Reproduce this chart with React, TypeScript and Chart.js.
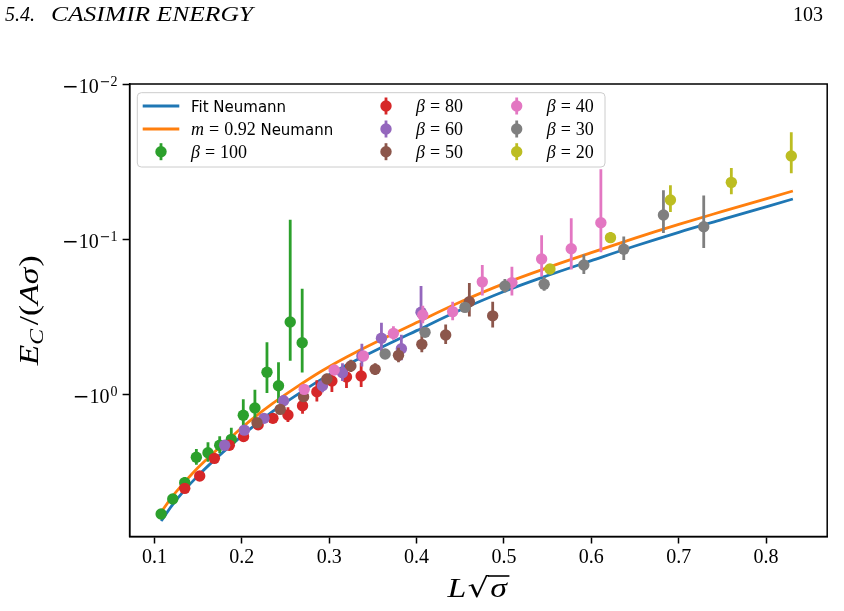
import React, { useEffect, useRef } from "react";
import { Chart, registerables } from "chart.js";

Chart.register(...registerables);

const SERIF = "'Liberation Serif', 'DejaVu Serif', serif";
const DSERIF = "'DejaVu Serif', serif";
const SANS = "'DejaVu Sans', 'Noto Sans', sans-serif";

// Fit curves: L*sqrt(sigma) and |E_C|/(A sigma)
const curveL = [0.1077, 0.12, 0.135, 0.15, 0.17, 0.19, 0.21, 0.235, 0.26, 0.29, 0.32, 0.36, 0.4, 0.45, 0.5, 0.55, 0.6, 0.65, 0.7, 0.75, 0.8306];
const fitNeumann = [6.6, 5.25, 4.14, 3.36, 2.62, 2.08, 1.67, 1.3, 1.04, 0.81, 0.65, 0.5, 0.39, 0.287, 0.218, 0.172, 0.138, 0.111, 0.0905, 0.0748, 0.0552];
const massNeumann = [5.78, 4.62, 3.68, 2.98, 2.33, 1.85, 1.48, 1.155, 0.924, 0.719, 0.577, 0.444, 0.346, 0.255, 0.194, 0.153, 0.1225, 0.0986, 0.0804, 0.0664, 0.049];

// Lattice data, |E_C|/(A sigma) with its error
const beta100L = [0.1077, 0.121, 0.1347, 0.148, 0.1613, 0.1747, 0.188, 0.2017, 0.215, 0.2288, 0.242, 0.2554, 0.2691];
const beta100E = [5.94, 4.76, 3.73, 2.56, 2.39, 2.14, 1.96, 1.37, 1.23, 0.724, 0.884, 0.343, 0.467];
const beta100Err = [0.3, 0.3, 0.3, 0.3, 0.34, 0.27, 0.31, 0.29, 0.29, 0.26, 0.26, 0.268, 0.258];

const beta80L = [0.1347, 0.1518, 0.1686, 0.1857, 0.202, 0.2187, 0.2356, 0.2528, 0.2695, 0.2859, 0.3031, 0.3198, 0.3366];
const beta80E = [4.06, 3.38, 2.6, 2.14, 1.88, 1.58, 1.435, 1.366, 1.19, 0.966, 0.824, 0.777, 0.765];
const beta80Err = [0.1, 0.1, 0.12, 0.12, 0.13, 0.1, 0.11, 0.15, 0.15, 0.15, 0.146, 0.138, 0.136];

const beta60L = [0.1804, 0.2029, 0.2254, 0.2478, 0.2923, 0.3152, 0.3374, 0.3598, 0.3826, 0.4051];
const beta60E = [2.14, 1.71, 1.435, 1.105, 0.884, 0.729, 0.569, 0.437, 0.51, 0.297];
const beta60Err = [0.09, 0.09, 0.09, 0.09, 0.09, 0.095, 0.095, 0.09, 0.096, 0.096];

const beta50L = [0.2174, 0.244, 0.2707, 0.2974, 0.3248, 0.3526, 0.3793, 0.406, 0.4333, 0.4604, 0.4871];
const beta50E = [1.53, 1.256, 1.04, 0.8, 0.66, 0.693, 0.563, 0.478, 0.416, 0.254, 0.313];
const beta50Err = [0.06, 0.06, 0.06, 0.06, 0.06, 0.06, 0.06, 0.06, 0.06, 0.062, 0.059];

const beta40L = [0.2714, 0.3057, 0.3392, 0.3735, 0.4071, 0.4413, 0.4752, 0.5091, 0.5431, 0.577, 0.6109];
const beta40E = [0.933, 0.7, 0.569, 0.406, 0.309, 0.294, 0.189, 0.191, 0.1346, 0.1155, 0.0785];
const beta40Err = [0.04, 0.04, 0.04, 0.04, 0.04, 0.04, 0.042, 0.04, 0.04, 0.042, 0.043];

const beta30L = [0.364, 0.4097, 0.4554, 0.5011, 0.546, 0.5914, 0.6371, 0.6825, 0.7286];
const beta30E = [0.552, 0.4, 0.276, 0.201, 0.196, 0.147, 0.1165, 0.07, 0.0833];
const beta30Err = [0.02, 0.02, 0.02, 0.02, 0.02, 0.021, 0.02, 0.0215, 0.031];

const beta20L = [0.5526, 0.6219, 0.6905, 0.7602, 0.8288];
const beta20E = [0.156, 0.098, 0.056, 0.0431, 0.0291];
const beta20Err = [0.008, 0.008, 0.011, 0.0083, 0.0086];

const xTicks = [0.1, 0.2, 0.3, 0.4, 0.5, 0.6, 0.7, 0.8];
const yTicks = [0.01, 0.1, 1];
const yTickExp = [-2, -1, 0];

const BLUE = "#1f77b4";
const ORANGE = "#ff7f0e";

const series = [
  { beta: "100", color: "#2ca02c", L: beta100L, E: beta100E, err: beta100Err },
  { beta: "80", color: "#d62728", L: beta80L, E: beta80E, err: beta80Err },
  { beta: "60", color: "#9467bd", L: beta60L, E: beta60E, err: beta60Err },
  { beta: "50", color: "#8c564b", L: beta50L, E: beta50E, err: beta50Err },
  { beta: "40", color: "#e377c2", L: beta40L, E: beta40E, err: beta40Err },
  { beta: "30", color: "#7f7f7f", L: beta30L, E: beta30E, err: beta30Err },
  { beta: "20", color: "#bcbd22", L: beta20L, E: beta20E, err: beta20Err },
];

type Run = { t?: string; font?: string; gap?: number; dy?: number };

function drawRuns(ctx: CanvasRenderingContext2D, runs: Run[], x: number, y: number) {
  let cx = x;
  for (const r of runs) {
    if (r.gap) {
      cx += r.gap;
      continue;
    }
    ctx.font = r.font!;
    ctx.fillText(r.t!, cx, y + (r.dy || 0));
    cx += ctx.measureText(r.t!).width;
  }
  return cx;
}

function runsWidth(ctx: CanvasRenderingContext2D, runs: Run[]) {
  let w = 0;
  for (const r of runs) {
    if (r.gap) w += r.gap;
    else {
      ctx.font = r.font!;
      w += ctx.measureText(r.t!).width;
    }
  }
  return w;
}

const MATH_I = `italic 18px ${SERIF}`;
const MATH_R = `18px ${SERIF}`;
const betaRuns = (b: string): Run[] => [
  { t: "β", font: MATH_I },
  { gap: 5 },
  { t: "=", font: MATH_R },
  { gap: 5 },
  { t: b, font: MATH_R },
];

// Per-dataset vertical error bars, painted right under that dataset's markers
const errorBars = {
  id: "errorBars",
  beforeDatasetDraw(chart: any, args: any) {
    const ds: any = chart.data.datasets[args.index];
    if (!ds.errors) return;
    const { ctx, chartArea } = chart;
    const xs = chart.scales.x;
    const ys = chart.scales.y;
    ctx.save();
    ctx.beginPath();
    ctx.rect(chartArea.left, chartArea.top, chartArea.right - chartArea.left, chartArea.bottom - chartArea.top);
    ctx.clip();
    ctx.strokeStyle = ds.backgroundColor;
    ctx.lineWidth = 2.8;
    ds.data.forEach((p: any, i: number) => {
      const e = ds.errors[i];
      const px = xs.getPixelForValue(p.x);
      const lo = p.y - e;
      const y1 = lo > 0 ? ys.getPixelForValue(lo) : chartArea.top;
      const y2 = ys.getPixelForValue(p.y + e);
      ctx.beginPath();
      ctx.moveTo(px, y1);
      ctx.lineTo(px, y2);
      ctx.stroke();
    });
    ctx.restore();
  },
};

// Frame, axis texts, legend and the page header
const decorations = {
  id: "decorations",
  afterDraw(chart: any) {
    const { ctx, chartArea } = chart;
    const ys = chart.scales.y;
    const { left, right, top, bottom } = chartArea;
    ctx.save();

    // frame
    ctx.strokeStyle = "#000";
    ctx.lineWidth = 1.5;
    ctx.strokeRect(left, top, right - left, bottom - top);

    ctx.fillStyle = "#000";
    ctx.textBaseline = "alphabetic";

    // y tick labels: -10^k, right-aligned against the tick marks
    yTicks.forEach((v, i) => {
      const py = ys.getPixelForValue(v);
      const k = yTickExp[i];
      const runs: Run[] = [
        { t: "−", font: `20px ${DSERIF}` },
        { t: "10", font: `20px ${SERIF}` },
        { gap: 1 },
      ];
      if (k < 0) runs.push({ t: "−", font: `13px ${DSERIF}`, dy: -7 });
      runs.push({ t: String(Math.abs(k)), font: `14px ${SERIF}`, dy: -7 });
      const w = runsWidth(ctx, runs);
      drawRuns(ctx, runs, left - 12 - w, py + 8.5);
    });

    // y axis title: E_C/(A sigma)
    {
      const big = 27;
      const runs: Run[] = [
        { t: "E", font: `italic ${big}px ${SERIF}` },
        { t: "C", font: `italic 19px ${SERIF}`, dy: 5 },
        { gap: 3 },
        { t: "/(", font: `${big}px ${SERIF}` },
        { t: "A", font: `italic ${big}px ${SERIF}` },
        { t: "σ", font: `italic ${big}px ${SERIF}` },
        { gap: 1 },
        { t: ")", font: `${big}px ${SERIF}` },
      ];
      const w = runsWidth(ctx, runs);
      const sx = 110 / w;
      ctx.save();
      ctx.translate(38, (top + bottom) / 2);
      ctx.rotate(-Math.PI / 2);
      ctx.scale(sx, 1);
      drawRuns(ctx, runs, -w / 2, 0);
      ctx.restore();
    }

    // x axis title: L sqrt(sigma)
    {
      const cx = (left + right) / 2;
      const base = 597;
      const fL = `italic 27px ${SERIF}`;
      const fR = `27px ${DSERIF}`;
      const fS = `italic 27px ${SERIF}`;
      ctx.font = fL;
      const wL = ctx.measureText("L").width;
      ctx.font = fR;
      const mRad = ctx.measureText("√");
      const wR = mRad.width;
      ctx.font = fS;
      const wS = ctx.measureText("σ").width;
      const total = wL + wR + wS + 4;
      const sx = 62 / total;
      ctx.save();
      ctx.translate(cx - 31, base);
      ctx.scale(sx, 1);
      let x0 = 0;
      ctx.font = fL;
      ctx.fillText("L", x0, 0);
      x0 += wL + 1;
      ctx.font = fR;
      ctx.fillText("√", x0, 0);
      const barY = -mRad.actualBoundingBoxAscent + 1;
      x0 += wR;
      ctx.font = fS;
      ctx.fillText("σ", x0 + 1, 0);
      ctx.lineWidth = 1.6;
      ctx.beginPath();
      ctx.moveTo(x0 - 1, barY);
      ctx.lineTo(x0 + wS + 3, barY);
      ctx.stroke();
      ctx.restore();
    }

    // header line
    ctx.font = `italic 20px ${SERIF}`;
    ctx.fillText("5.4.", 5, 21);
    {
      const txt = "CASIMIR ENERGY";
      const w = ctx.measureText(txt).width;
      ctx.save();
      ctx.translate(51, 21);
      ctx.scale(202 / w, 1);
      ctx.fillText(txt, 0, 0);
      ctx.restore();
    }
    ctx.font = `20px ${SERIF}`;
    ctx.textAlign = "right";
    ctx.fillText("103", 823, 21);
    ctx.textAlign = "left";

    // legend
    const lx = 137.3, ly = 92.7, lw = 467.7, lh = 74.3;
    ctx.beginPath();
    ctx.roundRect(lx, ly, lw, lh, 4);
    ctx.fillStyle = "rgba(255,255,255,0.8)";
    ctx.fill();
    ctx.strokeStyle = "#cccccc";
    ctx.lineWidth = 1;
    ctx.stroke();

    const rows = [106, 129, 151.7];
    ctx.lineWidth = 2.8;
    [BLUE, ORANGE].forEach((c, i) => {
      ctx.strokeStyle = c;
      ctx.beginPath();
      ctx.moveTo(142.7, rows[i]);
      ctx.lineTo(179.3, rows[i]);
      ctx.stroke();
    });
    ctx.fillStyle = "#000";
    drawRuns(ctx, [{ t: "Fit Neumann", font: `15px ${SANS}` }], 191, rows[0] + 5.5);
    drawRuns(
      ctx,
      [
        { t: "m", font: MATH_I },
        { gap: 5 },
        { t: "=", font: MATH_R },
        { gap: 5 },
        { t: "0.92", font: MATH_R },
        { t: " Neumann", font: `15px ${SANS}` },
      ],
      191,
      rows[1] + 5.5
    );

    const slots = [
      [161, 191, rows[2]],
      [386, 416, rows[0]],
      [386, 416, rows[1]],
      [386, 416, rows[2]],
      [516.7, 546.7, rows[0]],
      [516.7, 546.7, rows[1]],
      [516.7, 546.7, rows[2]],
    ];
    series.forEach((s, i) => {
      const [mx, tx, ry] = slots[i];
      ctx.strokeStyle = s.color;
      ctx.fillStyle = s.color;
      ctx.lineWidth = 2.8;
      ctx.beginPath();
      ctx.moveTo(mx, ry - 8.5);
      ctx.lineTo(mx, ry + 8.5);
      ctx.stroke();
      ctx.beginPath();
      ctx.arc(mx, ry, 5.7, 0, Math.PI * 2);
      ctx.fill();
      ctx.fillStyle = "#000";
      drawRuns(ctx, betaRuns(s.beta), tx, ry + 6);
    });

    ctx.restore();
  },
};

export default function App() {
  const ref = useRef<HTMLCanvasElement>(null);

  useEffect(() => {
    const canvas = ref.current;
    if (!canvas) return;

    const lineSets = [
      { label: "Fit Neumann", values: fitNeumann, color: BLUE },
      { label: "m = 0.92 Neumann", values: massNeumann, color: ORANGE },
    ].map((c, i) => ({
      type: "line" as const,
      label: c.label,
      data: curveL.map((x, k) => ({ x, y: c.values[k] })),
      borderColor: c.color,
      backgroundColor: c.color,
      borderWidth: 2.8,
      pointRadius: 0,
      cubicInterpolationMode: "monotone" as const,
      fill: false,
      order: 10 - i,
    }));

    const pointSets = series.map((s, i) => ({
      type: "scatter" as const,
      label: `β = ${s.beta}`,
      data: s.L.map((x, k) => ({ x, y: s.E[k] })),
      errors: s.err,
      backgroundColor: s.color,
      borderColor: s.color,
      pointRadius: 5.7,
      pointBorderWidth: 0,
      showLine: false,
      order: -i,
    }));

    const tickGrid = {
      drawOnChartArea: false,
      drawTicks: true,
      tickLength: 7,
      tickColor: "#000",
      tickWidth: 1.5,
    };

    const chart = new Chart(canvas, {
      type: "scatter",
      data: { datasets: [...lineSets, ...pointSets] as any },
      options: {
        responsive: false,
        animation: false,
        events: [],
        layout: { padding: { top: 84, right: 16.8, left: 0, bottom: 0 } },
        plugins: { legend: { display: false }, tooltip: { enabled: false } },
        scales: {
          x: {
            type: "linear",
            min: 0.0716,
            max: 0.8699,
            afterFit: (s: any) => {
              s.height = 74.5;
            },
            afterBuildTicks: (s: any) => {
              s.ticks = xTicks.map((value) => ({ value }));
            },
            ticks: {
              callback: (v: any) => Number(v).toFixed(1),
              font: { family: SERIF, size: 20 },
              color: "#000",
              padding: 2,
              maxRotation: 0,
              autoSkip: false,
            },
            grid: tickGrid,
            border: { display: true, color: "#000", width: 1.5 },
          },
          y: {
            type: "logarithmic",
            reverse: true,
            min: 0.01,
            max: 8.3,
            afterFit: (s: any) => {
              s.width = 129.6;
            },
            afterBuildTicks: (s: any) => {
              s.ticks = yTicks.map((value) => ({ value }));
            },
            ticks: { display: false },
            grid: tickGrid,
            border: { display: true, color: "#000", width: 1.5 },
          },
        },
      } as any,
      plugins: [errorBars, decorations],
    });

    return () => chart.destroy();
  }, []);

  return (
    <div style={{ position: "fixed", left: 0, top: 0, width: 844, height: 611, background: "#fff" }}>
      <canvas ref={ref} width={844} height={611} style={{ display: "block", width: 844, height: 611 }} />
    </div>
  );
}
